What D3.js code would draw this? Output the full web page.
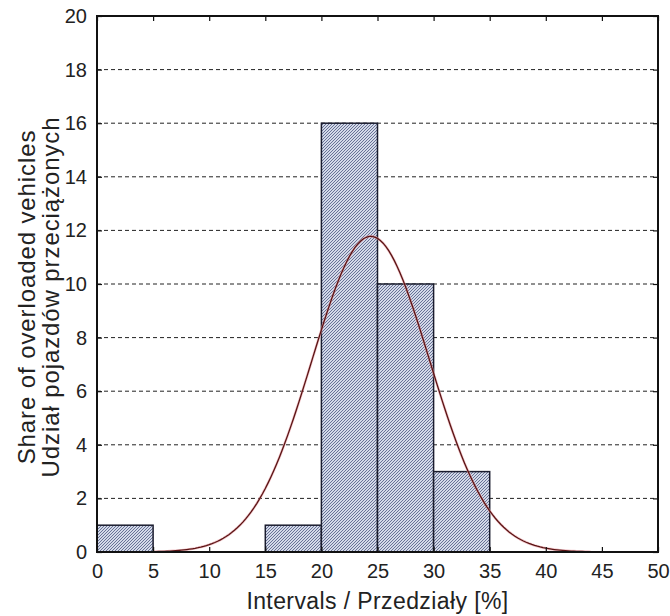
<!DOCTYPE html>
<html>
<head>
<meta charset="utf-8">
<script src="https://cdn.jsdelivr.net/npm/d3@7"></script>
<style>
  body { margin: 0; background: #fff; }
  svg { display: block; font-family: "Liberation Sans", Arial, sans-serif; }
</style>
</head>
<body>
<svg class="chart"></svg>
<script>
// histogram bins: [start, end) in %, count
BIN_STARTS = [0, 15, 20, 25, 30];
BIN_ENDS = [5, 20, 25, 30, 35];
BIN_COUNTS = [1, 1, 16, 10, 3];

X_TICKS = [0, 5, 10, 15, 20, 25, 30, 35, 40, 45, 50];
Y_TICKS = [0, 2, 4, 6, 8, 10, 12, 14, 16, 18, 20];

// fitted normal curve
FIT_MEAN = 24.4;
FIT_SD = 5.25;
FIT_RANGE = [5, 44];

WIDTH = 670;
HEIGHT = 616;
PLOT = {left: 97, right: 658, top: 16, bottom: 552};

svg = d3.select(".chart").attr("width", WIDTH).attr("height", HEIGHT);

x = d3.scaleLinear().domain([0, 50]).range([PLOT.left, PLOT.right]);
y = d3.scaleLinear().domain([0, 20]).range([PLOT.bottom, PLOT.top]);

// hatch pattern for bars
defs = svg.append("defs");
pat = defs.append("pattern")
    .attr("id", "hatch")
    .attr("patternUnits", "userSpaceOnUse")
    .attr("width", 3).attr("height", 3);
pat.append("rect").attr("width", 3).attr("height", 3).attr("fill", "#d3d9e8");
pat.append("path")
    .attr("d", "M-1,1 l2,-2 M0,3 l3,-3 M2,4 l2,-2")
    .attr("stroke", "#4b5782")
    .attr("stroke-width", 0.8);

// dashed grid lines
svg.append("g")
    .selectAll("line")
    .data(Y_TICKS.filter(function(d) { return d > 0 && d < 20; }))
    .enter().append("line")
    .attr("x1", PLOT.left).attr("x2", PLOT.right)
    .attr("y1", function(d) { return y(d); })
    .attr("y2", function(d) { return y(d); })
    .attr("stroke", "#222")
    .attr("stroke-width", 1)
    .attr("stroke-dasharray", "4,3");

// bars
bins = BIN_COUNTS.map(function(c, i) {
    return {x0: BIN_STARTS[i], x1: BIN_ENDS[i], count: c};
});
svg.append("g")
    .selectAll("rect")
    .data(bins)
    .enter().append("rect")
    .attr("x", function(d) { return x(d.x0); })
    .attr("width", function(d) { return x(d.x1) - x(d.x0); })
    .attr("y", function(d) { return y(d.count); })
    .attr("height", function(d) { return y(0) - y(d.count); })
    .attr("fill", "url(#hatch)")
    .attr("stroke", "#1a1c2e")
    .attr("stroke-width", 1.5);

// normal fit curve, expected count per 5% bin
total = d3.sum(BIN_COUNTS);
binWidth = 5;
curvePts = d3.range(FIT_RANGE[0], FIT_RANGE[1] + 0.001, 0.25).map(function(v) {
    z = (v - FIT_MEAN) / FIT_SD;
    return [v, total * binWidth * Math.exp(-0.5 * z * z) / (FIT_SD * Math.sqrt(2 * Math.PI))];
});
line = d3.line()
    .x(function(d) { return x(d[0]); })
    .y(function(d) { return y(d[1]); });
svg.append("path")
    .datum(curvePts)
    .attr("fill", "none")
    .attr("stroke", "#e9a0a8")
    .attr("stroke-width", 2.6)
    .attr("opacity", 0.6)
    .attr("d", line);
svg.append("path")
    .datum(curvePts)
    .attr("fill", "none")
    .attr("stroke", "#5a1414")
    .attr("stroke-width", 1.3)
    .attr("d", line);

// axes with inward ticks on all four sides
function styleAxis(g) {
    g.select(".domain").remove();
    g.selectAll(".tick line").attr("stroke", "#111").attr("stroke-width", 1.2);
    g.selectAll(".tick text")
        .attr("fill", "#222")
        .style("font-size", "20px");
}

svg.append("g")
    .attr("transform", "translate(0," + PLOT.bottom + ")")
    .call(d3.axisBottom(x).tickValues(X_TICKS).tickSizeInner(-5).tickPadding(12))
    .call(styleAxis);
svg.append("g")
    .attr("transform", "translate(0," + PLOT.top + ")")
    .call(d3.axisTop(x).tickValues(X_TICKS).tickSizeInner(-5).tickFormat(""))
    .call(styleAxis);
svg.append("g")
    .attr("transform", "translate(" + PLOT.left + ",0)")
    .call(d3.axisLeft(y).tickValues(Y_TICKS).tickSizeInner(-5).tickPadding(10))
    .call(styleAxis);
svg.append("g")
    .attr("transform", "translate(" + PLOT.right + ",0)")
    .call(d3.axisRight(y).tickValues(Y_TICKS).tickSizeInner(-5).tickFormat(""))
    .call(styleAxis);

// frame
svg.append("rect")
    .attr("x", PLOT.left).attr("y", PLOT.top)
    .attr("width", PLOT.right - PLOT.left)
    .attr("height", PLOT.bottom - PLOT.top)
    .attr("fill", "none")
    .attr("stroke", "#111")
    .attr("stroke-width", 2);

// axis titles
svg.append("text")
    .attr("x", (PLOT.left + PLOT.right) / 2)
    .attr("y", 609)
    .attr("text-anchor", "middle")
    .attr("fill", "#222")
    .style("font-size", "23px")
    .style("letter-spacing", "0.4px")
    .text("Intervals / Przedziały [%]");

yTitle = svg.append("text")
    .attr("transform", "translate(35,297) rotate(-90)")
    .attr("text-anchor", "middle")
    .attr("fill", "#222")
    .style("font-size", "24px")
    .style("letter-spacing", "0.9px");
yTitle.append("tspan").attr("x", 0).attr("y", 0).text("Share of overloaded vehicles");
yTitle.append("tspan").attr("x", 0).attr("y", 24).text("Udział pojazdów przeciążonych");
</script>
</body>
</html>
